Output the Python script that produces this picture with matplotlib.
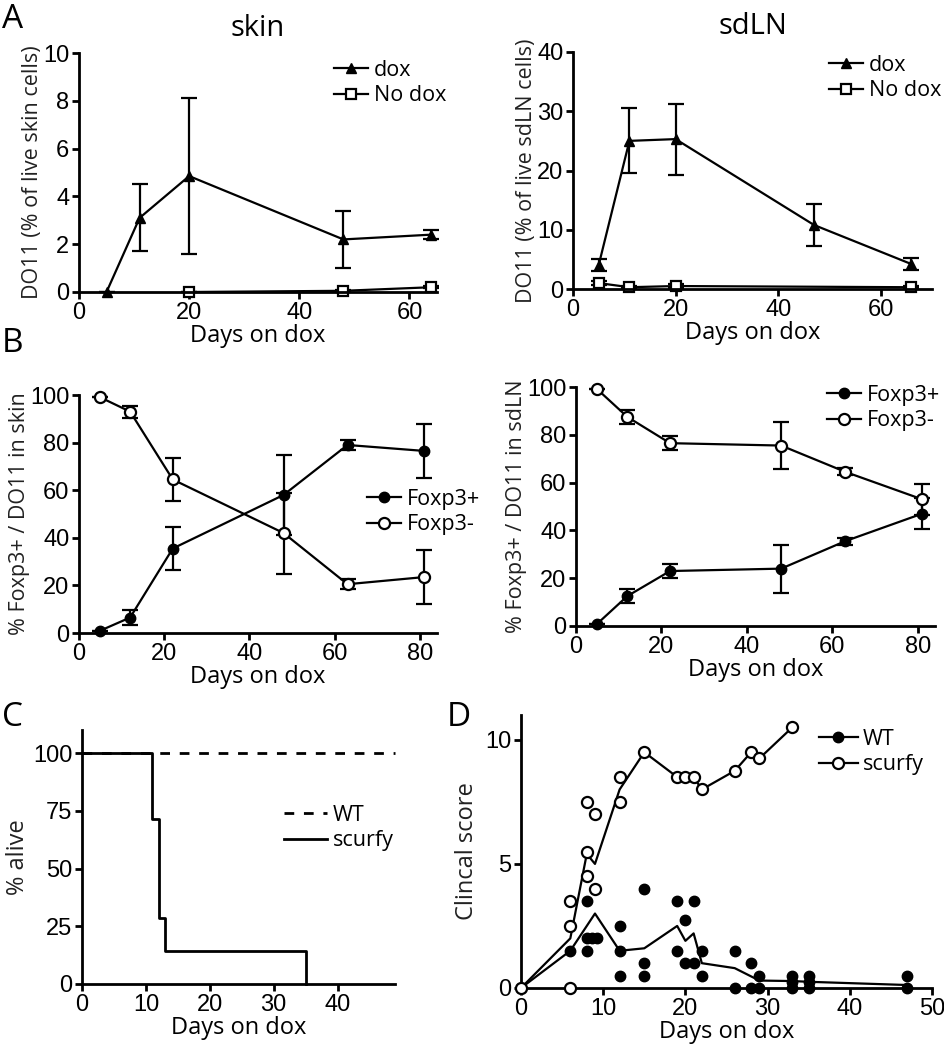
import matplotlib
matplotlib.use("Agg")
import matplotlib.pyplot as plt
from matplotlib.lines import Line2D

# ---------------- data ----------------
# Panel A: skin
skin_dox_x = [5, 11, 20, 48, 64]
skin_dox_y = [0, 3.1, 4.85, 2.2, 2.4]
skin_dox_err = [0, 1.4, 3.25, 1.2, 0.2]
skin_nodox_x = [20, 48, 64]
skin_nodox_y = [0, 0.05, 0.2]
skin_nodox_err = [0, 0.05, 0.05]

# Panel A: sdLN
ln_dox_x = [5, 11, 20, 47, 66]
ln_dox_y = [4, 25, 25.3, 10.8, 4.2]
ln_dox_err = [1, 5.5, 6, 3.5, 1]
ln_nodox_x = [5, 11, 20, 66]
ln_nodox_y = [1, 0.3, 0.5, 0.3]
ln_nodox_err = [0.3, 0.2, 0.3, 0.2]

# Panel B
b_x = [5, 12, 22, 48, 63, 81]
skin_pos_y = [1, 6.5, 35.5, 58, 79, 76.5]
skin_pos_err = [0, 3, 9, 17, 2, 11.5]
skin_neg_y = [99, 93, 64.5, 42, 20.5, 23.5]
skin_neg_err = [0, 2.5, 9, 17, 2, 11.5]
ln_pos_y = [1, 12.5, 23, 24, 35.5, 47]
ln_pos_err = [0, 3, 3, 10, 1.5, 6.5]
ln_neg_y = [99, 87.5, 76.5, 75.5, 64.5, 53]
ln_neg_err = [0, 3, 3, 10, 1.5, 6.5]

# Panel C: survival
wt_surv_t = [0, 49]
wt_surv = [100, 100]
sc_surv_t = [0, 11, 12, 13, 35]
sc_surv = [100, 71.4, 28.6, 14.3, 0]

# Panel D: clinical score
wt_pts_x = [0, 6, 8, 8, 8.6, 9.2, 8, 12, 12, 12, 15, 15, 15, 19, 19, 20, 21,
            20, 21, 22, 22, 26, 26, 28, 28, 29, 29, 33, 33, 33, 35, 35, 35, 47, 47]
wt_pts_y = [0, 1.5, 3.5, 2, 2, 2, 1.5, 2.5, 1.5, 0.5, 4, 1, 0.5, 3.5, 1.5, 2.75, 3.5,
            1, 1, 1.5, 0.5, 1.5, 0, 1, 0, 0.5, 0, 0.5, 0.25, 0, 0.5, 0.25, 0, 0.5, 0]
wt_mean_x = [0, 6, 9, 12, 15, 19, 20, 21, 22, 26, 29, 33, 35, 47]
wt_mean_y = [0, 1.5, 3.0, 1.5, 1.6, 2.5, 1.9, 2.2, 1.0, 0.8, 0.3, 0.28, 0.25, 0.12]
sc_pts_x = [0, 6, 6, 6, 8, 8, 8, 9, 9, 12, 12, 15, 19, 20, 21, 22, 26, 28, 29, 33]
sc_pts_y = [0, 0, 2.5, 3.5, 7.5, 5.5, 4.5, 7, 4, 8.5, 7.5, 9.5, 8.5, 8.5, 8.5, 8, 8.75, 9.5, 9.25, 10.5]
sc_mean_x = [0, 6, 8, 9, 12, 15, 19, 20, 21, 22, 26, 28, 29, 33]
sc_mean_y = [0, 2.0, 5.4, 5.0, 8.0, 9.5, 8.5, 8.5, 8.5, 8.0, 8.75, 9.5, 9.25, 10.5]

# ---------------- style ----------------
W, H = 945, 1050
fig = plt.figure(figsize=(W / 100, H / 100), dpi=100)
LAB = "Open Sans"
TCK = "Liberation Sans"
LW = 1.6

def ax_px(left, right, top, bottom):
    return fig.add_axes([left / W, (H - bottom) / H, (right - left) / W, (bottom - top) / H])

def style(ax, xlim, ylim, xticks, yticks, ylabel, xlabel="Days on dox", yfs=15.5, ypad=1):
    ax.set_xlim(*xlim)
    ax.set_ylim(*ylim)
    ax.set_xticks(xticks)
    ax.set_yticks(yticks)
    for s in ["top", "right"]:
        ax.spines[s].set_visible(False)
    for s in ["left", "bottom"]:
        ax.spines[s].set_linewidth(2)
    ax.tick_params(direction="out", length=5, width=2, labelsize=17, pad=2)
    for lab in ax.get_xticklabels() + ax.get_yticklabels():
        lab.set_fontfamily(TCK)
    ax.set_xlabel(xlabel, fontfamily=LAB, fontsize=17, labelpad=0)
    ax.set_ylabel(ylabel, fontfamily=LAB, fontsize=yfs, labelpad=ypad, color="#222222")

def legend_at(ax, handles, labels, x, y, hl=1.6):
    leg = ax.legend(handles, labels, loc="upper left",
                    bbox_to_anchor=(x / W, 1 - y / H), bbox_transform=fig.transFigure,
                    frameon=False, handlelength=hl, handletextpad=0.25, borderpad=0,
                    borderaxespad=0, labelspacing=0.2,
                    prop={"family": LAB, "size": 15.5})
    return leg

ekw = dict(color="black", lw=LW, elinewidth=LW, capsize=5.5, capthick=LW, clip_on=False)

# ---------- Panel A left ----------
ax1 = ax_px(79, 437, 53, 292)
ax1.errorbar(skin_dox_x, skin_dox_y, yerr=skin_dox_err, marker="^", ms=7.5, mfc="black", mec="black", **ekw)
ax1.errorbar(skin_nodox_x, skin_nodox_y, yerr=skin_nodox_err, marker="s", ms=7.5, mfc="white", mec="black", mew=1.6, **ekw)
style(ax1, (0, 65), (0, 10), [0, 20, 40, 60], [0, 2, 4, 6, 8, 10], "DO11 (% of live skin cells)", ypad=0)
h_dox = Line2D([], [], color="black", lw=LW, marker="^", ms=7.5)
h_nodox = Line2D([], [], color="black", lw=LW, marker="s", ms=7.5, mfc="white", mew=1.6)
legend_at(ax1, [h_dox, h_nodox], ["dox", "No dox"], 334, 60)
ax1.set_title("skin", fontfamily=LAB, fontsize=21, pad=12)

# ---------- Panel A right ----------
ax2 = ax_px(573, 932, 52, 289)
ax2.errorbar(ln_dox_x, ln_dox_y, yerr=ln_dox_err, marker="^", ms=7.5, mfc="black", mec="black", **ekw)
ax2.errorbar(ln_nodox_x, ln_nodox_y, yerr=ln_nodox_err, marker="s", ms=7.5, mfc="white", mec="black", mew=1.6, **ekw)
style(ax2, (0, 70), (0, 40), [0, 20, 40, 60], [0, 10, 20, 30, 40], "DO11 (% of live sdLN cells)", ypad=0)
legend_at(ax2, [h_dox, h_nodox], ["dox", "No dox"], 829, 55)
ax2.set_title("sdLN", fontfamily=LAB, fontsize=21, pad=13)

# ---------- Panel B left ----------
ax3 = ax_px(79, 437, 395, 633)
ax3.errorbar(b_x, skin_pos_y, yerr=skin_pos_err, marker="o", ms=7.5, mfc="black", mec="black", **ekw)
ax3.errorbar(b_x, skin_neg_y, yerr=skin_neg_err, marker="o", ms=8, mfc="white", mec="black", mew=1.6, **ekw)
style(ax3, (0, 84), (0, 100), [0, 20, 40, 60, 80], [0, 20, 40, 60, 80, 100], "% Foxp3+ / DO11 in skin", ypad=0)
h_pos = Line2D([], [], color="black", lw=LW, marker="o", ms=7.5)
h_neg = Line2D([], [], color="black", lw=LW, marker="o", ms=8, mfc="white", mew=1.6)
legend_at(ax3, [h_pos, h_neg], ["Foxp3+", "Foxp3-"], 367, 489)

# ---------- Panel B right ----------
ax4 = ax_px(576, 935, 387, 626)
ax4.errorbar(b_x, ln_pos_y, yerr=ln_pos_err, marker="o", ms=7.5, mfc="black", mec="black", **ekw)
ax4.errorbar(b_x, ln_neg_y, yerr=ln_neg_err, marker="o", ms=8, mfc="white", mec="black", mew=1.6, **ekw)
style(ax4, (0, 84), (0, 100), [0, 20, 40, 60, 80], [0, 20, 40, 60, 80, 100], "% Foxp3+ / DO11 in sdLN", ypad=0)
legend_at(ax4, [h_pos, h_neg], ["Foxp3+", "Foxp3-"], 827, 385)

# ---------- Panel C ----------
ax5 = ax_px(82, 395, 730, 984)
ax5.plot(wt_surv_t, wt_surv, color="black", lw=2, dashes=(3.5, 3.5), clip_on=False)
ax5.step(sc_surv_t, sc_surv, where="post", color="black", lw=2, clip_on=False)
style(ax5, (0, 49), (0, 110), [0, 10, 20, 30, 40], [0, 25, 50, 75, 100], "% alive", yfs=17, ypad=2)
h_wt = Line2D([], [], color="black", lw=2, dashes=(3.5, 3.5))
h_sc = Line2D([], [], color="black", lw=2)
legend_at(ax5, [h_wt, h_sc], ["WT", "scurfy"], 284, 805, hl=2.0)

# ---------- Panel D ----------
ax6 = ax_px(521, 932, 715, 988)
ax6.plot(wt_mean_x, wt_mean_y, color="black", lw=LW, clip_on=False)
ax6.plot(sc_mean_x, sc_mean_y, color="black", lw=LW, clip_on=False)
ax6.plot(wt_pts_x, wt_pts_y, ls="none", marker="o", ms=7.5, mfc="black", mec="black", clip_on=False, zorder=3)
ax6.plot(sc_pts_x, sc_pts_y, ls="none", marker="o", ms=8, mfc="white", mec="black", mew=1.6, clip_on=False, zorder=3)
style(ax6, (0, 50), (0, 11), [0, 10, 20, 30, 40, 50], [0, 5, 10], "Clincal score", yfs=17, ypad=4)
legend_at(ax6, [h_pos, h_neg], ["WT", "scurfy"], 819, 729, hl=1.8)

# ---------- panel letters ----------
for letter, x, y in [("A", 2, 20), ("B", 2, 343), ("C", 2, 718), ("D", 447, 718)]:
    fig.text(x / W, 1 - y / H, letter, fontfamily=LAB, fontsize=24, va="center", ha="left")

fig.savefig("out.png", dpi=100)
